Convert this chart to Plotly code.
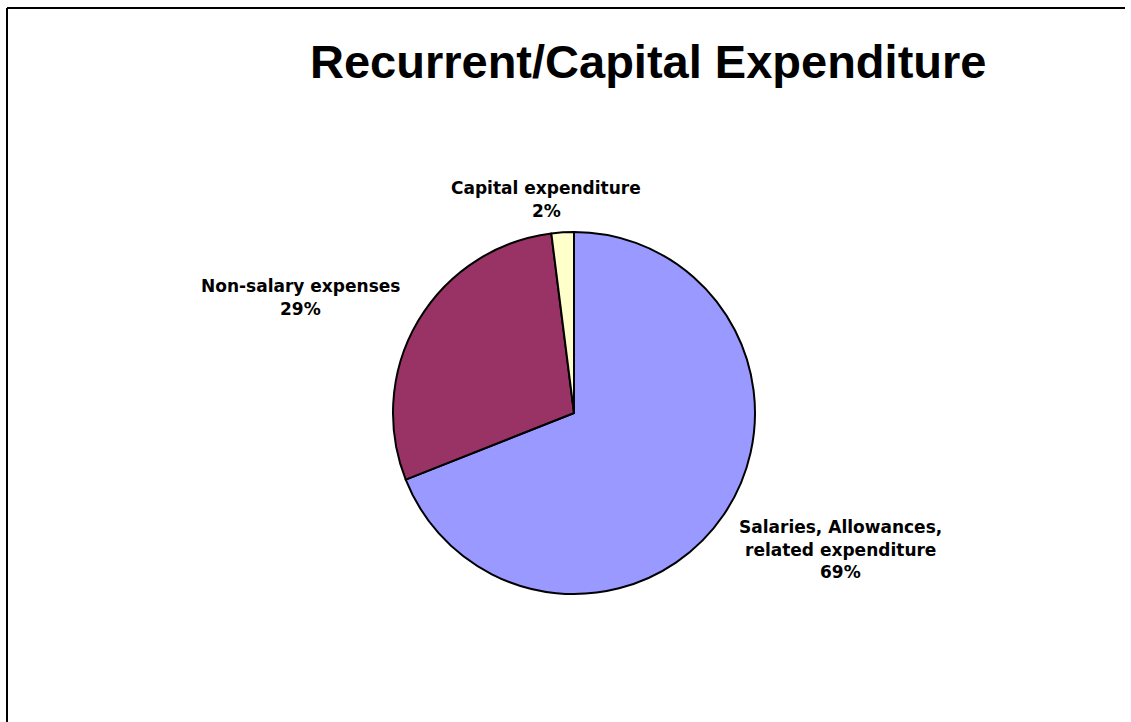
import plotly.graph_objects as go

# Data
categories = ["Salaries, Allowances, related expenditure", "Non-salary expenses", "Capital expenditure"]
label_lines = [["Salaries, Allowances,", "related expenditure"], ["Non-salary expenses"], ["Capital expenditure"]]
values = [69, 29, 2]
colors = ["#9999FF", "#993366", "#FFFFCC"]
title_text = "Recurrent/Capital Expenditure"

W, H = 1131, 722
total = sum(values)
percents = [f"{round(v / total * 100)}%" for v in values]

cx, cy, r = 574, 413, 181

fig = go.Figure(go.Pie(
    labels=categories,
    values=values,
    sort=False,
    direction="clockwise",
    rotation=0,
    textinfo="none",
    hoverinfo="label+percent",
    marker=dict(colors=colors, line=dict(color="#000000", width=2)),
    domain=dict(x=[(cx - r) / W, (cx + r) / W], y=[(H - cy - r) / H, (H - cy + r) / H]),
    showlegend=False,
))

# label anchor positions (pixel centers of the first line) and line spacing
label_pos = [(840, 527), (300, 286), (546, 188)]
line_gap = 22.5

annotations = []
for i, (lines, pct) in enumerate(zip(label_lines, percents)):
    x0, y0 = label_pos[i]
    for j, txt in enumerate(lines + [pct]):
        annotations.append(dict(
            x=x0 / W, y=1 - (y0 + j * line_gap) / H, xref="paper", yref="paper",
            text=f"<b>{txt}</b>", showarrow=False, xanchor="center", yanchor="middle",
            font=dict(family="DejaVu Sans", size=17, color="#000000"),
        ))

annotations.append(dict(
    x=648 / W, y=1 - 62 / H, xref="paper", yref="paper",
    text=f"<b>{title_text}</b>", showarrow=False, xanchor="center", yanchor="middle",
    font=dict(family="Liberation Sans", size=47, color="#000000"),
))

shapes = [
    dict(type="line", xref="paper", yref="paper", x0=7 / W, x1=1125 / W, y0=1 - 8 / H, y1=1 - 8 / H,
         line=dict(color="#000000", width=2)),
    dict(type="line", xref="paper", yref="paper", x0=7 / W, x1=7 / W, y0=1 - 8 / H, y1=0,
         line=dict(color="#000000", width=2)),
]

fig.update_layout(
    width=W, height=H,
    margin=dict(l=0, r=0, t=0, b=0),
    paper_bgcolor="#FFFFFF", plot_bgcolor="#FFFFFF",
    annotations=annotations, shapes=shapes,
)

fig.write_html("out.html")
